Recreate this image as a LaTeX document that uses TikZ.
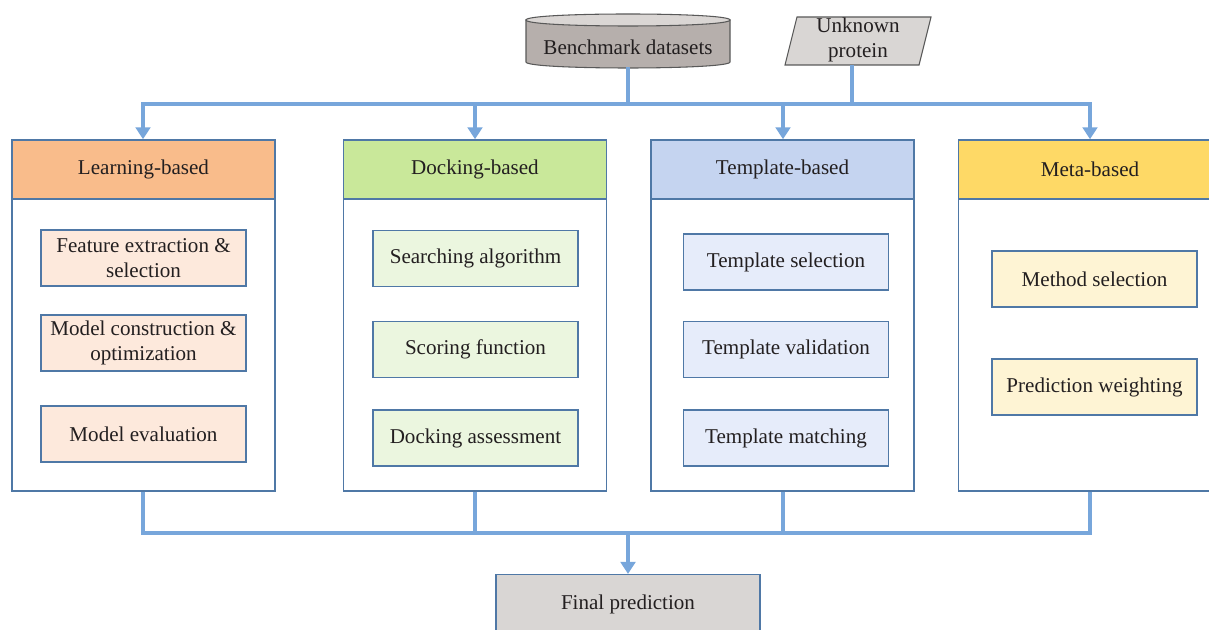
\documentclass[tikz,border=0pt]{standalone}
\usepackage{fontspec}
\setmainfont{Liberation Serif}
\usetikzlibrary{arrows.meta}
\definecolor{busc}{HTML}{77A6DB}
\definecolor{edgec}{HTML}{4F78A6}
\definecolor{orh}{HTML}{F9BC8B}
\definecolor{orl}{HTML}{FDE9DC}
\definecolor{grh}{HTML}{C9E89A}
\definecolor{grl}{HTML}{EBF6DF}
\definecolor{blh}{HTML}{C5D4F0}
\definecolor{bll}{HTML}{E6ECFA}
\definecolor{yeh}{HTML}{FED966}
\definecolor{yel}{HTML}{FEF4D4}
\definecolor{cylbody}{HTML}{B6AFAC}
\definecolor{cyltop}{HTML}{DAD6D4}
\definecolor{grayfill}{HTML}{D9D6D4}
\definecolor{txt}{HTML}{231F20}
\tikzset{
  base/.style={font=\fontsize{15.8}{19}\selectfont, text=txt, align=center, inner sep=0pt},
  hdr/.style={base, draw=edgec, line width=1.1pt, minimum width=197.25pt, minimum height=44.25pt},
  bodybox/.style={draw=edgec, line width=1.1pt, fill=white, minimum width=197.25pt, minimum height=219pt, inner sep=0pt},
  sub/.style={base, draw=edgec, line width=0.9pt, minimum width=153.75pt, minimum height=42pt},
  bus/.style={draw=busc, line width=3.2pt},
  busarrow/.style={bus, -{Triangle[width=11pt,length=9pt]}},
}
\begin{document}
\begin{tikzpicture}[x=0.75pt,y=-0.75pt]
\useasboundingbox (0,0) rectangle (1209,630);

% inputs
\filldraw[fill=cylbody, draw=gray!70!black, line width=0.8pt]
  (526,20) -- (526,62) .. controls (526,70) and (730,70) .. (730,62) -- (730,20) -- cycle;
\filldraw[fill=cyltop, draw=gray!70!black, line width=0.8pt]
  (526,20) .. controls (526,12) and (730,12) .. (730,20) .. controls (730,28) and (526,28) .. (526,20) -- cycle;
\node[base, minimum width=153pt, minimum height=36pt] (bench) at (628,47) {Benchmark datasets};
\coordinate (benchb) at (628,67);

\filldraw[fill=grayfill, draw=gray!70!black, line width=0.8pt]
  (797,17) -- (931,17) -- (919,65) -- (785,65) -- cycle;
\node[base, text width=90pt, minimum height=36pt] (prot) at (858,40) {Unknown\\protein};
\coordinate (protb) at (852,65);

% columns
\node[bodybox] (lb) at (143.5,345) {};
\node[hdr, fill=orh] (lh) at (143.5,169.5) {Learning-based};
\node[bodybox] (db) at (475,345) {};
\node[hdr, fill=grh] (dh) at (475,169.5) {Docking-based};
\node[bodybox] (tb) at (782.5,345) {};
\node[hdr, fill=blh] (th) at (782.5,169.5) {Template-based};
\node[bodybox] (mb) at (1090,345) {};
\node[hdr, fill=yeh] (mh) at (1090,169.5) {Meta-based};

% sub boxes
\node[sub, fill=orl] (l1) at (143.5,258) {Feature extraction \&\\selection};
\node[sub, fill=orl] (l2) at (143.5,343) {Model construction \&\\optimization};
\node[sub, fill=orl] (l3) at (143.5,434) {Model evaluation};

\node[sub, fill=grl] (d1) at (475.5,258.5) {Searching algorithm};
\node[sub, fill=grl] (d2) at (475.5,349.5) {Scoring function};
\node[sub, fill=grl] (d3) at (475.5,438) {Docking assessment};

\node[sub, fill=bll] (t1) at (786,262) {Template selection};
\node[sub, fill=bll] (t2) at (786,349.5) {Template validation};
\node[sub, fill=bll] (t3) at (786,438) {Template matching};

\node[sub, fill=yel] (m1) at (1094.5,279) {Method selection};
\node[sub, fill=yel] (m2) at (1094.5,387) {Prediction weighting};

% final
\node[base, draw=edgec, line width=1.1pt, fill=grayfill, minimum width=198pt, minimum height=44pt] (fin) at (628,604) {Final prediction};

% top bus
\coordinate (tj1) at (628,104);
\coordinate (tj2) at (852,104);
\coordinate (tl) at (143,104);
\coordinate (tr) at (1090,104);
\draw[bus] (benchb) -- (tj1);
\draw[bus] (protb) -- (tj2);
\draw[bus, line cap=rect] (tl) -- (tr);
\draw[busarrow] (tl) -- (lh.north -| tl);
\draw[busarrow] (475,104) -- (dh.north);
\draw[busarrow] (783,104) -- (th.north -| 783,0);
\draw[busarrow] (tr) -- (mh.north);

% bottom bus
\coordinate (bl) at (143,533);
\coordinate (br) at (1090,533);
\coordinate (bj) at (628,533);
\draw[bus] (lb.south -| bl) -- (bl);
\draw[bus] (db.south) -- (475,533);
\draw[bus] (tb.south -| 783,0) -- (783,533);
\draw[bus] (mb.south) -- (br);
\draw[bus, line cap=rect] (bl) -- (br);
\draw[busarrow] (bj) -- (fin.north);
\end{tikzpicture}
\end{document}
